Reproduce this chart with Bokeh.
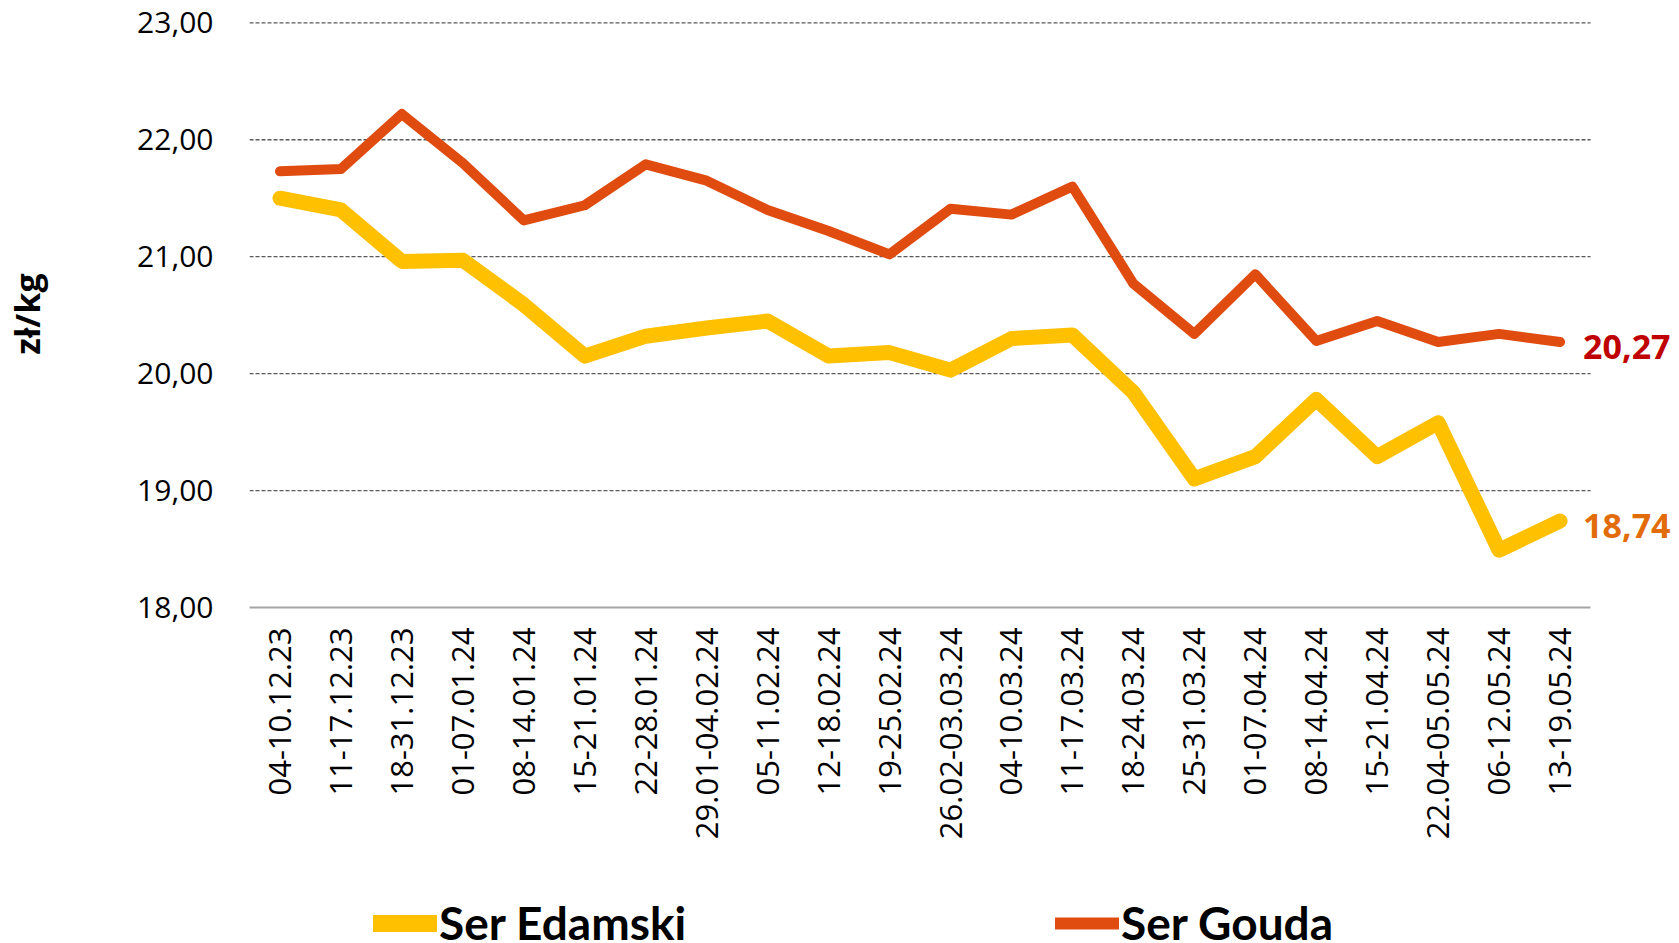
import math
from bokeh.plotting import figure
from bokeh.layouts import column
from bokeh.models import Range1d, FixedTicker, Legend, LegendItem, LabelSet, ColumnDataSource
from bokeh.core.properties import value
from bokeh.embed import file_html
from bokeh.resources import INLINE

weeks = ["04-10.12.23", "11-17.12.23", "18-31.12.23", "01-07.01.24", "08-14.01.24",
         "15-21.01.24", "22-28.01.24", "29.01-04.02.24", "05-11.02.24", "12-18.02.24",
         "19-25.02.24", "26.02-03.03.24", "04-10.03.24", "11-17.03.24", "18-24.03.24",
         "25-31.03.24", "01-07.04.24", "08-14.04.24", "15-21.04.24", "22.04-05.05.24",
         "06-12.05.24", "13-19.05.24"]
edamski = [21.50, 21.40, 20.96, 20.97, 20.59, 20.15, 20.32, 20.39, 20.45, 20.15, 20.18,
           20.03, 20.30, 20.33, 19.84, 19.10, 19.29, 19.78, 19.29, 19.58, 18.49, 18.74]
gouda = [21.73, 21.75, 22.22, 21.80, 21.31, 21.44, 21.79, 21.65, 21.40, 21.22, 21.02,
         21.41, 21.36, 21.60, 20.77, 20.34, 20.85, 20.28, 20.45, 20.27, 20.34, 20.27]
y_ticks = [18, 19, 20, 21, 22, 23]
y_tick_labels = ["18,00", "19,00", "20,00", "21,00", "22,00", "23,00"]
series_names = ["Ser Edamski", "Ser Gouda"]
end_labels = ["18,74", "20,27"]

EDAM_COLOR = "#FFC000"
GOUDA_COLOR = "#E04C10"

xs = list(range(len(weeks)))
x_lo, x_hi = -0.5, len(weeks) - 0.5

W = 1676
p = figure(width=W, height=875, output_backend="svg", toolbar_location=None,
           x_range=Range1d(x_lo, x_hi + 1.41), y_range=Range1d(18, 23.02),
           min_border_left=249, min_border_right=0, min_border_top=20, min_border_bottom=268)
p.outline_line_color = None
p.background_fill_color = "white"

# axes
p.xaxis.ticker = FixedTicker(ticks=xs)
p.xaxis.bounds = (x_lo, x_hi)
p.xaxis.major_label_overrides = {i: w for i, w in zip(xs, weeks)}
p.xaxis.major_label_orientation = math.pi / 2
p.xaxis.major_label_text_font = "Open Sans"
p.xaxis.major_label_text_font_size = "31px"
p.xaxis.major_label_text_color = "black"
p.xaxis.major_label_standoff = 14
p.xaxis.major_tick_line_color = None
p.xaxis.minor_tick_line_color = None
p.xaxis.axis_line_color = "#A6A6A6"
p.xaxis.axis_line_width = 2

p.yaxis.ticker = FixedTicker(ticks=y_ticks)
p.yaxis.major_label_overrides = {t: l for t, l in zip(y_ticks, y_tick_labels)}
p.yaxis.major_label_text_font = "Open Sans"
p.yaxis.major_label_text_font_size = "30px"
p.yaxis.major_label_text_color = "black"
p.yaxis.major_label_standoff = 30
p.yaxis.major_tick_line_color = None
p.yaxis.minor_tick_line_color = None
p.yaxis.axis_line_color = None
p.yaxis.axis_label = "zł/kg"
p.yaxis.axis_label_text_font = "Open Sans"
p.yaxis.axis_label_text_font_style = "bold"
p.yaxis.axis_label_text_font_size = "34px"
p.yaxis.axis_label_text_color = "black"
p.yaxis.axis_label_standoff = 84

p.xgrid.grid_line_color = None
p.ygrid.grid_line_color = None

# dashed horizontal gridlines limited to the category area
gy = y_ticks[1:]
p.segment(x0=[x_lo] * len(gy), x1=[x_hi] * len(gy), y0=gy, y1=gy,
          line_color="#595959", line_width=1.3, line_dash="4 2")

p.line(xs, edamski, line_color=EDAM_COLOR, line_width=15, line_cap="round", line_join="round")
p.line(xs, gouda, line_color=GOUDA_COLOR, line_width=10, line_cap="round", line_join="round")

src = ColumnDataSource(dict(x=[xs[-1], xs[-1]], y=[edamski[-1], gouda[-1]],
                            text=end_labels, color=["#E36C0A", "#C00000"]))
labels = LabelSet(x="x", y="y", text="text", source=src, text_color="color",
                  x_offset=23, y_offset=-5, text_baseline="middle",
                  text_font=value("Open Sans"), text_font_style="bold",
                  text_font_size="34px")
p.add_layout(labels)

# legend strip below the chart (series drawn out of view; only the legend shows)
lf = figure(width=W, height=65, output_backend="svg", toolbar_location=None,
            x_range=Range1d(0, 1), y_range=Range1d(0, 1),
            x_axis_location=None, y_axis_location=None,
            min_border_left=0, min_border_right=0, min_border_top=0, min_border_bottom=0)
lf.outline_line_color = None
lf.xgrid.grid_line_color = None
lf.ygrid.grid_line_color = None
le = lf.line(xs, edamski, line_color=EDAM_COLOR, line_width=17, line_cap="round")
lg = lf.line(xs, gouda, line_color=GOUDA_COLOR, line_width=12, line_cap="round")
legend = Legend(items=[LegendItem(label=series_names[0], renderers=[le]),
                       LegendItem(label=series_names[1], renderers=[lg])],
                orientation="horizontal", location=(124, -10),
                glyph_width=64, glyph_height=20, label_width=616, label_standoff=2,
                label_text_font="Lato", label_text_font_style="bold",
                label_text_font_size="46px", label_text_color="black",
                padding=0, margin=0, spacing=0,
                border_line_color=None, background_fill_alpha=0)
lf.add_layout(legend)

layout = column(p, lf, spacing=0)
open("out.html", "w").write(file_html(layout, INLINE))
